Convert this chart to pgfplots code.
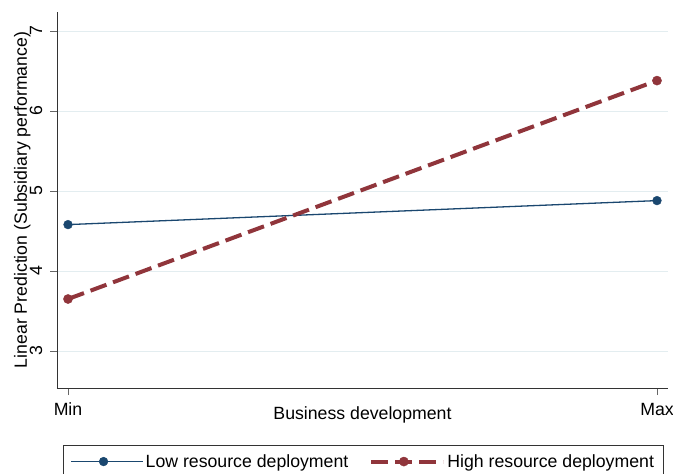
\documentclass[border=0pt]{standalone}
\usepackage{fontspec}
\setmainfont{Liberation Sans}
\usepackage{pgfplots}
\pgfplotsset{compat=1.18}
\definecolor{stnavy}{HTML}{1A476F}
\definecolor{stmaroon}{HTML}{90353B}
\definecolor{gridc}{HTML}{E3EDF0}
\newcommand{\fs}{\fontsize{17.7}{21}\selectfont}
\begin{document}
\begin{tikzpicture}[x=1pt,y=1pt]
\begin{axis}[
  at={(57pt,-388pt)}, anchor=south west,
  scale only axis, width=611pt, height=376pt,
  xmin=-0.0187, xmax=1.0187, ymin=2.5375, ymax=7.2375,
  axis x line*=bottom, axis y line*=left,
  axis line style={black!80, line width=0.8pt, -},
  xtick={0,1}, xticklabels={Min,Max},
  ytick={3,4,5,6,7},
  ymajorgrids, grid style={gridc, line width=1pt},
  tick style={black!60, line width=0.8pt},
  major tick length=7pt, tick align=outside,
  /pgf/number format/assume math mode=true,
  every tick label/.append style={font=\fs},
  yticklabel style={rotate=90, anchor=base, yshift=8pt},
  xticklabel style={anchor=base, yshift=-20pt},
  xlabel={Business development},
  ylabel={Linear Prediction (Subsidiary performance)},
  xlabel style={font=\fs, at={(axis description cs:0.5,0)}, anchor=base, yshift=-31pt},
  ylabel style={font=\fs, at={(axis description cs:0,0.5)}, anchor=base, yshift=30pt},
  legend columns=2,
  legend style={font=\fs, at={(axis description cs:0.00982,-0.1516)}, anchor=north west,
    draw=black!80, line width=0.8pt, inner xsep=7pt, inner ysep=7pt,
    /tikz/every even column/.append style={column sep=19pt}, cells={anchor=west}},
  legend image code/.code={\path (0pt,0pt) -- (72pt,0pt);\draw[mark repeat=2,mark phase=2] plot coordinates {(0pt,0pt)(32.5pt,0pt)(65pt,0pt)};},
]
\addplot[stnavy, line width=1.3pt, mark=*, mark size=4.4pt, mark options={solid, line width=0.4pt}] coordinates {(0,4.58) (1,4.88)};
\addlegendentry{Low resource deployment}
\addplot[stmaroon, line width=4pt, dash pattern=on 17pt off 7pt, mark=*, mark size=4.6pt, mark options={solid, line width=0.4pt}] coordinates {(0,3.65) (1,6.38)};
\addlegendentry{High resource deployment\hspace{9pt}}
\end{axis}
\pgfresetboundingbox
\path[use as bounding box] (0,0) rectangle (673,-474);
\end{tikzpicture}
\end{document}
